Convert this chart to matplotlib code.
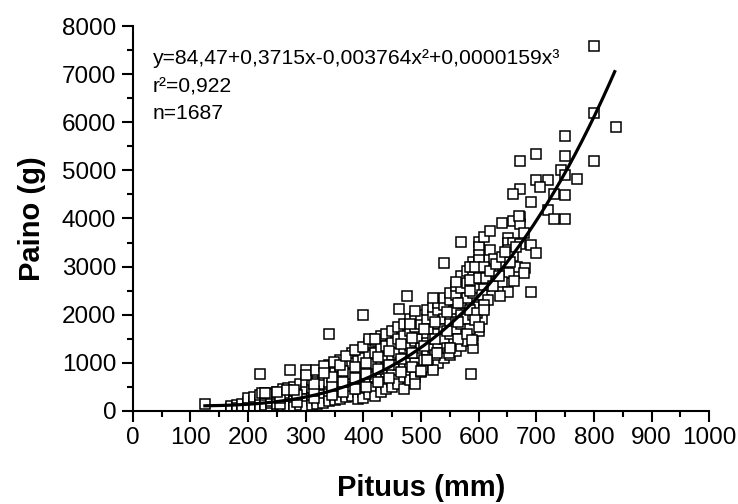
import numpy as np
import matplotlib
matplotlib.use("Agg")
import matplotlib.pyplot as plt

plt.rcParams['font.family'] = ['Liberation Sans', 'DejaVu Sans']

# fitted cubic: y = c0 + c1*x + c2*x^2 + c3*x^3
coef = [84.47, 0.3715, -0.003764, 0.0000159]
fit_start, fit_end = 125, 836

# dense part of the cloud, read per length class (mm -> g)
band = {
    170: [20, 60, 100],
    180: [30, 80, 120, 60],
    190: [40, 90, 150, 20],
    200: [50, 100, 180, 260, 30],
    210: [60, 120, 200, 90, 280],
    220: [70, 140, 230, 320, 40],
    230: [60, 150, 250, 370, 110],
    240: [80, 170, 280, 200, 350],
    250: [90, 190, 300, 400, 140],
    260: [100, 200, 330, 450, 60, 250],
    270: [120, 230, 350, 480, 170, 90],
    280: [140, 260, 380, 500, 200, 80],
    290: [160, 280, 420, 550, 230, 120],
    300: [180, 300, 450, 600, 250, 100],
    310: [200, 330, 480, 650, 260, 130],
    320: [220, 360, 520, 700, 800, 290, 150],
    330: [240, 380, 560, 750, 320, 170],
    340: [260, 420, 600, 800, 950, 350, 200],
    350: [280, 450, 640, 850, 1000, 380, 220],
    360: [300, 480, 680, 900, 1050, 420, 250],
    370: [320, 520, 720, 950, 450, 280],
    380: [350, 560, 770, 1000, 1200, 500, 300],
    390: [380, 600, 820, 1050, 1250, 550, 250],
    400: [400, 650, 870, 1100, 600, 270],
    410: [450, 700, 920, 1150, 1400, 650, 350],
    420: [480, 750, 980, 1200, 1450, 700, 300],
    430: [520, 800, 1050, 1300, 1550, 750, 400],
    440: [560, 850, 1100, 1350, 1600, 800, 450],
    450: [600, 900, 1150, 1400, 1650, 850, 500],
    460: [650, 950, 1200, 1500, 1750, 550],
    470: [700, 1000, 1300, 1550, 1800, 900, 450],
    480: [750, 1050, 1350, 1650, 1900, 1000, 650],
    490: [800, 1100, 1450, 1750, 1950, 1200, 700],
    500: [850, 1200, 1500, 1800, 2000, 1300, 800],
    510: [900, 1250, 1600, 1900, 2100, 1400],
    520: [950, 1300, 1700, 2000, 2150, 1500],
    530: [1000, 1400, 1800, 2100, 2250, 1600],
    540: [1100, 1500, 1900, 2200, 2350, 1700],
    550: [1150, 1600, 2000, 2300, 2450, 1800],
    560: [1250, 1700, 2100, 2400, 2600, 1900],
    570: [1350, 1800, 2250, 2550, 2800, 2000],
    580: [1450, 1900, 2350, 2650, 2900],
    590: [1550, 2000, 2450, 2800, 3100],
    600: [1650, 2150, 2550, 2900, 3050],
    610: [2300, 2600, 2850],
}

# in-between length classes, where the cloud is thickest
band_mid = {
    255: [150, 260],
    285: [190, 330],
    315: [260, 420, 560],
    345: [330, 520, 700],
    365: [380, 600, 820],
    385: [450, 680, 900],
    405: [500, 760, 1000],
    425: [600, 860, 1120],
    445: [680, 960, 1250],
    465: [800, 1080, 1380],
    485: [900, 1200, 1520],
    505: [1050, 1350, 1700],
    525: [1150, 1500, 1850],
    545: [1300, 1650, 2050],
    565: [1500, 1850, 2250],
    585: [1700, 2100, 2500],
    605: [1900, 2400, 2750],
}

# sparser points and outliers
out_x = [125, 221, 272, 300, 300, 318, 331, 331, 349, 360, 224, 230, 250, 267, 279,
         341, 400, 370, 386, 400, 409, 421,
         476, 520, 461, 490, 480, 540, 561, 570,
         586, 590, 580, 520, 490, 500, 549, 551, 528, 510,
         600, 600, 610, 620, 620, 626, 600, 600, 585, 594, 609,
         641, 660, 671, 671, 651, 651, 660, 678, 671, 690, 700, 651, 660,
         667, 681, 678, 643, 652, 661, 585, 600, 612, 632, 641,
         651, 637, 617, 609, 690, 597, 609, 594, 600, 588,
         620, 630, 640, 655, 625, 635, 645, 665,
         700, 671, 750, 750, 742, 750, 771, 700, 720, 707, 671, 660, 730, 750,
         690, 720, 730, 750, 670,
         800, 800, 839, 800]
out_y = [145, 770, 850, 850, 750, 850, 940, 780, 1005, 955, 370, 370, 400, 435, 435,
         1600, 1995, 1145, 1255, 1325, 1500, 1500,
         2390, 2355, 2115, 2085, 1800, 3080, 2680, 3520,
         765, 1300, 1600, 850, 560, 820, 1205, 1310, 1200, 1060,
         3520, 3400, 3620, 3740, 3350, 3150, 3240, 3140, 3000, 3000, 3000,
         3900, 3955, 4040, 3890, 3600, 3500, 3500, 3690, 3470, 3450, 3290, 3350, 3210,
         3000, 2965, 2860, 2860, 2860, 2690, 2720, 2760, 2760, 2690, 2670,
         2480, 2380, 2310, 2200, 2480, 2030, 2100, 1890, 1750, 1475,
         2900, 3050, 3200, 3100, 2600, 2800, 3300, 3400,
         5340, 5200, 5720, 5300, 5000, 4905, 4815, 4800, 4800, 4650, 4610, 4505, 4510, 4490,
         4350, 4180, 3990, 3990, 4055,
         7590, 6200, 5900, 5200]

pituus, paino = [], []
for table in (band, band_mid):
    for x, ys in table.items():
        pituus += [x] * len(ys)
        paino += ys
pituus += out_x
paino += out_y

W, H = 738, 504
fig = plt.figure(figsize=(W / 100, H / 100), dpi=100)
ax = fig.add_axes([0.180, 0.185, 0.781, 0.763])

ax.plot(pituus, paino, linestyle='none', marker='s', markersize=6.5,
        markerfacecolor='white', markeredgecolor='black', markeredgewidth=1.1)

xf = np.linspace(fit_start, fit_end, 300)
yf = np.polyval(coef[::-1], xf)
ax.plot(xf, yf, color='black', linewidth=2.3)

ax.set_xlim(0, 1000)
ax.set_ylim(0, 8000)
ax.set_xticks(np.arange(0, 1001, 100))
ax.set_xticks(np.arange(50, 1000, 100), minor=True)
ax.set_yticks(np.arange(0, 8001, 1000))
ax.set_yticks(np.arange(500, 8000, 1000), minor=True)

for side in ['top', 'right']:
    ax.spines[side].set_visible(False)
for side in ['left', 'bottom']:
    ax.spines[side].set_linewidth(1.5)

ax.tick_params(which='major', direction='out', length=8, width=1.5,
               labelsize=17.5, pad=4)
ax.tick_params(which='minor', direction='out', length=4.5, width=1.5)

# axis titles placed in figure pixels so they stay inside the canvas
fig.text(421 / W, 1 - 496 / H, 'Pituus (mm)', fontsize=21, fontweight='bold',
         ha='center', va='baseline')
fig.text(40 / W, 1 - 218.5 / H, 'Paino (g)', fontsize=21, fontweight='bold',
         ha='center', va='baseline', rotation=90, rotation_mode='anchor')

ax.text(35, 7215, 'y=84,47+0,3715x-0,003764x²+0,0000159x³', fontsize=15.2)
ax.text(35, 6630, 'r²=0,922', fontsize=15.2)
ax.text(35, 6070, 'n=1687', fontsize=15.2)

fig.savefig('out.png', dpi=100)
